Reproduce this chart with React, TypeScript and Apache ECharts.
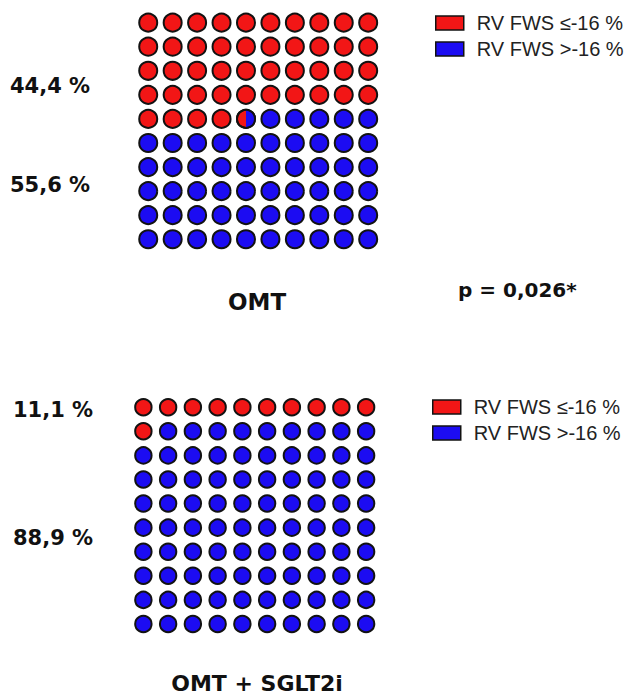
import React, { useEffect, useRef } from "react";
import * as echarts from "echarts";

const categories = ["OMT", "OMT + SGLT2i"];
const lowSharePct = [44.4, 11.1]; // RV FWS ≤-16 %
const highSharePct = [55.6, 88.9]; // RV FWS >-16 %
const legendNames = ["RV FWS ≤-16 %", "RV FWS >-16 %"];
const pValueLabel = "p = 0,026*";
const cellsPerSide = 10;

const RED = "#f21616";
const BLUE = "#1c0cf2";
const STROKE = "#121212";

const fmt = (v: number) => v.toFixed(1).replace(".", ",") + " %";

function buildCells(lowPct: number) {
  const red: number[][] = [];
  const blue: number[][] = [];
  const n = cellsPerSide * cellsPerSide;
  for (let i = 0; i < n; i++) {
    const col = i % cellsPerSide;
    const row = Math.floor(i / cellsPerSide);
    const raw = Math.max(0, Math.min(1, (lowPct / 100) * n - i));
    const frac = Math.round(raw * 2) / 2;
    if (frac > 0) red.push([col, row, frac]);
    if (frac < 1) blue.push([col, row, 1 - frac]);
  }
  return { red, blue };
}

export default function App() {
  const ref = useRef<HTMLDivElement>(null);
  useEffect(() => {
    if (!ref.current) return;
    const chart = echarts.init(ref.current, null, { renderer: "svg" });
    const grids = [
      { left: 136, top: 10.6, width: 244.4, height: 240.7 },
      { left: 131, top: 395.2, width: 247.5, height: 240.8 },
    ];
    const radii = [9, 8.2];

    const makeRender = (g: number, color: string, side: "left" | "right") =>
      (params: any, api: any) => {
        const p = api.coord([api.value(0), api.value(1)]);
        const frac = api.value(2);
        const r = radii[g];
        if (frac >= 1) {
          return {
            type: "circle",
            shape: { cx: p[0], cy: p[1], r },
            style: { fill: color, stroke: STROKE, lineWidth: 2 },
          };
        }
        const center = side === "left" ? Math.PI : 0;
        return {
          type: "group",
          children: [
            {
              type: "sector",
              shape: {
                cx: p[0],
                cy: p[1],
                r,
                r0: 0,
                startAngle: center - frac * Math.PI,
                endAngle: center + frac * Math.PI,
                clockwise: true,
              },
              style: { fill: color },
            },
            {
              type: "circle",
              shape: { cx: p[0], cy: p[1], r },
              style: { fill: "none", stroke: STROKE, lineWidth: 2 },
            },
          ],
        };
      };

    const series: any[] = [];
    categories.forEach((_, g) => {
      const cells = buildCells(lowSharePct[g]);
      series.push({
        type: "custom",
        name: legendNames[0],
        xAxisIndex: g,
        yAxisIndex: g,
        coordinateSystem: "cartesian2d",
        itemStyle: { color: RED },
        encode: { x: 0, y: 1 },
        data: cells.red,
        renderItem: makeRender(g, RED, "left"),
      });
      series.push({
        type: "custom",
        name: legendNames[1],
        xAxisIndex: g,
        yAxisIndex: g,
        coordinateSystem: "cartesian2d",
        itemStyle: { color: BLUE },
        encode: { x: 0, y: 1 },
        data: cells.blue,
        renderItem: makeRender(g, BLUE, "right"),
      });
    });

    const boldFont = "DejaVu Sans";
    const labelText = (text: string, x: number, y: number, size: number, align = "left") => ({
      type: "text",
      x,
      y,
      style: {
        text,
        fill: "#111",
        font: `bold ${size}px "${boldFont}"`,
        textAlign: align,
        textVerticalAlign: "middle",
      },
    });

    const legendCommon = {
      orient: "vertical",
      icon: "rect",
      itemWidth: 28,
      itemHeight: 14,
      itemGap: 6,
      selectedMode: false,
      itemStyle: { borderColor: STROKE, borderWidth: 1.5 },
      textStyle: {
        fontFamily: "Liberation Sans",
        fontSize: 20,
        color: "#222",
        padding: [0, 0, 0, 8],
      },
      data: legendNames,
    };

    chart.setOption({
      animation: false,
      backgroundColor: "#fff",
      grid: grids,
      xAxis: grids.map((_, i) => ({
        type: "value",
        gridIndex: i,
        min: -0.5,
        max: cellsPerSide - 0.5,
        show: false,
      })),
      yAxis: grids.map((_, i) => ({
        type: "value",
        gridIndex: i,
        min: -0.5,
        max: cellsPerSide - 0.5,
        inverse: true,
        show: false,
      })),
      legend: [
        { ...legendCommon, left: 430, top: 8 },
        { ...legendCommon, left: 427, top: 392 },
      ],
      series,
      graphic: [
        labelText(fmt(lowSharePct[0]), 10, 86, 21),
        labelText(fmt(highSharePct[0]), 10, 185, 21),
        labelText(fmt(lowSharePct[1]), 13, 410, 21),
        labelText(fmt(highSharePct[1]), 13, 538, 21),
        labelText(categories[0], 257, 302, 23, "center"),
        labelText(pValueLabel, 458, 290, 20),
        labelText(categories[1], 257, 683, 22, "center"),
      ],
    });
    return () => chart.dispose();
  }, []);
  return (
    <div
      ref={ref}
      style={{ position: "absolute", left: 0, top: 0, width: 624, height: 697 }}
    />
  );
}
